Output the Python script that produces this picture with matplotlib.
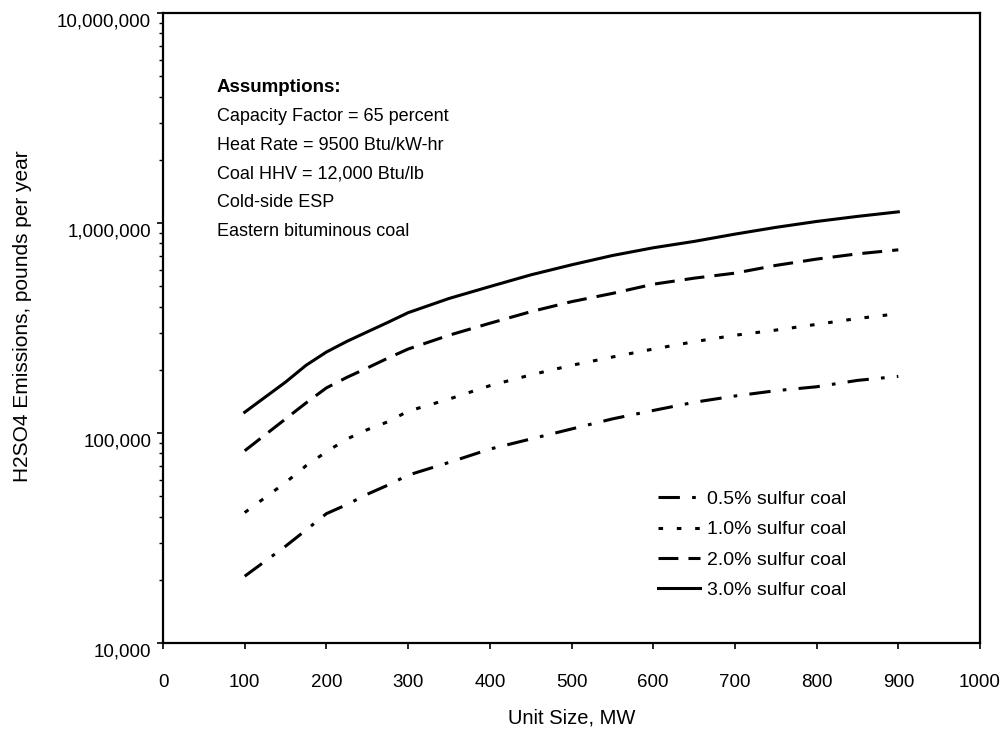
import matplotlib
matplotlib.use("Agg")
import matplotlib.pyplot as plt
from matplotlib.ticker import FuncFormatter, LogLocator, NullFormatter
from matplotlib.transforms import ScaledTranslation

plt.rcParams['font.family'] = ['Liberation Sans', 'DejaVu Sans']

# Unit size (MW) and H2SO4 emissions (lb/yr)
unit_size = [100, 150, 175, 200, 225, 250, 275, 300, 350, 400,
             450, 500, 550, 600, 650, 700, 750, 800, 850, 900]
sulfur_05 = [20800, 28900, 34500, 41300, 45600, 51100, 56400, 63000, 72400, 83800,
             93600, 104500, 116700, 128000, 140000, 150000, 159000, 166000, 178000, 186000]
sulfur_10 = [41800, 58100, 69800, 81400, 93600, 103700, 113000, 127000, 145000, 168000,
             189000, 210000, 230000, 251000, 272000, 292000, 309000, 329000, 351000, 370000]
sulfur_20 = [82300, 116700, 139000, 164000, 184000, 204000, 227000, 251000, 292000, 333000,
             378000, 422000, 462000, 511000, 546000, 577000, 628000, 673000, 713000, 745000]
sulfur_30 = [125600, 174800, 210000, 243000, 273000, 303000, 336000, 374000, 437000, 498000,
             566000, 632000, 700000, 762000, 817000, 885000, 953000, 1017000, 1075000, 1130000]

labels = ['0.5% sulfur coal', '1.0% sulfur coal', '2.0% sulfur coal', '3.0% sulfur coal']

assumptions = [
    'Capacity Factor = 65 percent',
    'Heat Rate = 9500 Btu/kW-hr',
    'Coal HHV = 12,000 Btu/lb',
    'Cold-side ESP',
    'Eastern bituminous coal',
]

fig = plt.figure(figsize=(10.07, 7.34), dpi=100)
ax = fig.add_axes([0.1619, 0.124, 0.8113, 0.8583])

lw = 2.2
ax.plot(unit_size, sulfur_05, color='black', lw=lw, dashes=(7, 4, 1.2, 4), label=labels[0])
ax.plot(unit_size, sulfur_10, color='black', lw=lw, dashes=(1.5, 4.5), label=labels[1])
ax.plot(unit_size, sulfur_20, color='black', lw=lw, dashes=(6.5, 3.3), label=labels[2])
ax.plot(unit_size, sulfur_30, color='black', lw=lw, label=labels[3])

ax.set_yscale('log')
ax.set_xlim(0, 1000)
ax.set_ylim(1e4, 1e7)
ax.set_xticks(range(0, 1001, 100))
ax.yaxis.set_major_locator(LogLocator(base=10))
ax.yaxis.set_minor_locator(LogLocator(base=10, subs=range(2, 10)))
ax.yaxis.set_minor_formatter(NullFormatter())
ax.yaxis.set_major_formatter(FuncFormatter(lambda v, p: f'{int(round(v)):,}'))

ax.tick_params(axis='both', which='major', direction='out', length=4, width=1.2,
               labelsize=13.5, colors='black')
ax.tick_params(axis='y', which='minor', direction='out', length=3, width=1)
ax.tick_params(axis='x', pad=18)
ax.tick_params(axis='y', pad=4.5)
for s in ax.spines.values():
    s.set_linewidth(1.6)

# the scanned y labels sit a little below their ticks
off = ScaledTranslation(0, -5 / 72, fig.dpi_scale_trans)
for lab in ax.get_yticklabels():
    lab.set_transform(lab.get_transform() + off)

ax.set_xlabel('Unit Size, MW', fontsize=14.5, labelpad=13)
ax.set_ylabel('H2SO4 Emissions, pounds per year', fontsize=15)
ax.yaxis.set_label_coords(-0.160, 0.519)

ax.text(0.066, 0.881, 'Assumptions:', transform=ax.transAxes, fontsize=13.5,
        fontweight='bold', va='center')
for i, line in enumerate(assumptions):
    ax.text(0.066, 0.835 - i * 0.0455, line, transform=ax.transAxes, fontsize=13,
            va='center')

ax.legend(loc='upper left', bbox_to_anchor=(0.606, 0.242), frameon=False,
          fontsize=14, handlelength=2.15, handletextpad=0.36, labelspacing=0.65,
          borderaxespad=0, borderpad=0)

fig.savefig('out.png', dpi=100)
